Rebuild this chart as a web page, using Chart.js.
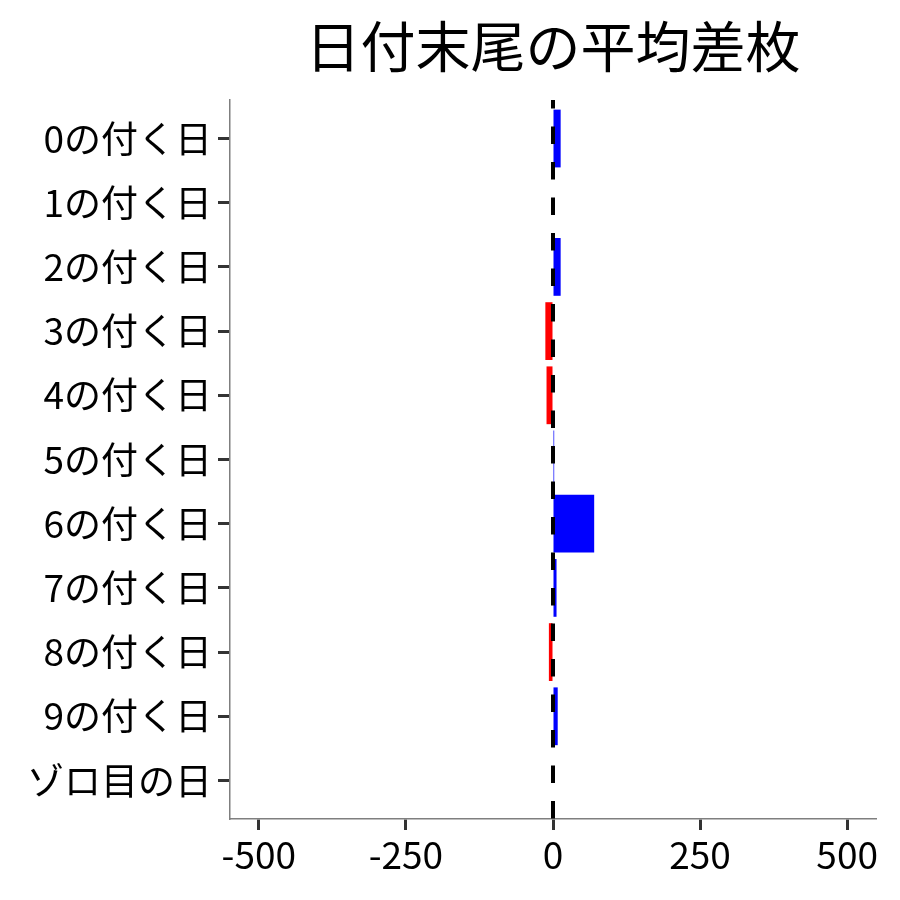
<!DOCTYPE html>
<html lang="ja">
<head>
<meta charset="UTF-8">
<title>日付末尾の平均差枚</title>
<script src="https://cdn.jsdelivr.net/npm/chart.js@4.4.0/dist/chart.umd.min.js"></script>
<style>
  html, body { margin: 0; padding: 0; background: #fff; }
  #wrap { width: 900px; height: 900px; }
</style>
</head>
<body>
<div id="wrap"><canvas id="chart" width="900" height="900"></canvas></div>
<script>
    const categories = ['0の付く日', '1の付く日', '2の付く日', '3の付く日', '4の付く日',
        '5の付く日', '6の付く日', '7の付く日', '8の付く日', '9の付く日', 'ゾロ目の日'];
    const avgDiff = [13, 0, 13, -13, -11, 2, 70, 6, -7, 8, 0];
    const xTicks = [-500, -250, 0, 250, 500];
    const titleText = '日付末尾の平均差枚';

    const font = '"Noto Sans CJK JP", "Noto Sans", sans-serif';

    // title centred over the plot panel, dashed zero line
    const extras = {
        id: 'extras',
        afterDatasetsDraw(chart) {
            const ctx = chart.ctx;
            const area = chart.chartArea;
            const x0 = chart.scales.x.getPixelForValue(0);
            ctx.save();
            ctx.strokeStyle = '#000';
            ctx.lineWidth = 4;
            ctx.setLineDash([17.5, 18]);
            ctx.lineDashOffset = 9;
            ctx.beginPath();
            ctx.moveTo(x0, area.top);
            ctx.lineTo(x0, area.bottom);
            ctx.stroke();
            ctx.restore();
        },
        afterDraw(chart) {
            const ctx = chart.ctx;
            const area = chart.chartArea;
            ctx.save();
            ctx.fillStyle = '#000';
            ctx.font = '55px ' + font;
            ctx.textAlign = 'center';
            ctx.textBaseline = 'middle';
            ctx.fillText(titleText, (area.left + area.right) / 2, 46);
            ctx.restore();
        }
    };

    const ctx = document.getElementById('chart').getContext('2d');
    new Chart(ctx, {
        type: 'bar',
        data: {
            datasets: [{
                data: avgDiff.map((v, i) => ({ x: v, y: i })),
                backgroundColor: avgDiff.map(v => v < 0 ? '#ff0000' : '#0000ff'),
                borderWidth: 0,
                barPercentage: 0.9,
                categoryPercentage: 1.0
            }]
        },
        options: {
            indexAxis: 'y',
            responsive: false,
            animation: false,
            layout: { padding: { top: 100, right: 24, left: 0, bottom: 0 } },
            plugins: {
                legend: { display: false },
                tooltip: { enabled: false }
            },
            scales: {
                x: {
                    type: 'linear',
                    min: -549,
                    max: 549,
                    afterBuildTicks: s => { s.ticks = xTicks.map(v => ({ value: v })); },
                    afterFit: s => { s.height = 81; },
                    grid: {
                        drawOnChartArea: false,
                        tickLength: 11,
                        tickColor: '#333',
                        tickWidth: 3
                    },
                    border: { display: true, color: '#7f7f7f', width: 1.5 },
                    ticks: {
                        color: '#000',
                        padding: 3,
                        maxRotation: 0,
                        font: { family: font, size: 37 }
                    }
                },
                y: {
                    type: 'linear',
                    reverse: true,
                    offset: false,
                    min: -0.6,
                    max: 10.6,
                    afterBuildTicks: s => { s.ticks = categories.map((c, i) => ({ value: i })); },
                    afterFit: s => { s.width = 230; },
                    grid: {
                        offset: false,
                        drawOnChartArea: false,
                        tickLength: 12,
                        tickColor: '#333',
                        tickWidth: 3
                    },
                    border: { display: true, color: '#7f7f7f', width: 1.5 },
                    ticks: {
                        color: '#000',
                        padding: 6,
                        font: { family: font, size: 37 },
                        callback: v => categories[v]
                    }
                }
            }
        },
        plugins: [extras]
    });
</script>
</body>
</html>
